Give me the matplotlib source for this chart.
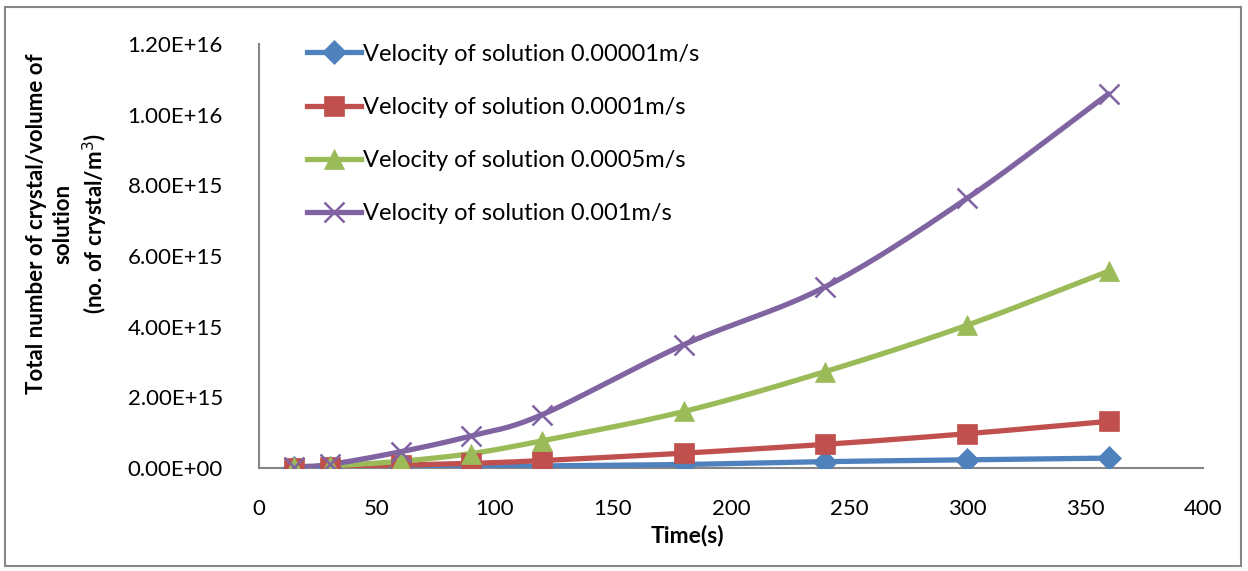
import numpy as np
import matplotlib
matplotlib.use("Agg")
import matplotlib.pyplot as plt
from matplotlib.patches import Rectangle

plt.rcParams['font.family'] = ['Lato', 'DejaVu Sans']

# Time (s)
time_s = [15, 30, 60, 90, 120, 180, 240, 300, 360]

# Total number of crystals per volume of solution (no. of crystal/m^3)
v_00001 = [0.003e15, 0.008e15, 0.02e15, 0.035e15, 0.06e15, 0.10e15, 0.18e15, 0.23e15, 0.28e15]
v_0001 = [0.01e15, 0.03e15, 0.08e15, 0.13e15, 0.21e15, 0.42e15, 0.67e15, 0.97e15, 1.32e15]
v_0005 = [0.02e15, 0.06e15, 0.19e15, 0.41e15, 0.77e15, 1.60e15, 2.73e15, 4.04e15, 5.57e15]
v_001 = [0.03e15, 0.10e15, 0.46e15, 0.91e15, 1.51e15, 3.49e15, 5.13e15, 7.63e15, 10.59e15]

labels = [
    "Velocity of solution 0.00001m/s",
    "Velocity of solution 0.0001m/s",
    "Velocity of solution 0.0005m/s",
    "Velocity of solution 0.001m/s",
]
series = [v_00001, v_0001, v_0005, v_001]
colors = ["#4F81BD", "#C0504D", "#9BBB59", "#8064A2"]
markers = ["D", "s", "^", "x"]
msizes = [12, 14, 15, 15]

y_ticks = [0, 2e15, 4e15, 6e15, 8e15, 1e16, 1.2e16]
y_ticklabels = ["0.00E+00", "2.00E+15", "4.00E+15", "6.00E+15", "8.00E+15", "1.00E+16", "1.20E+16"]
x_ticks = [0, 50, 100, 150, 200, 250, 300, 350, 400]


def smooth(x, y, n=30):
    """Catmull-Rom curve through the points (spreadsheet-style smoothed line)."""
    p = np.column_stack([x, y]).astype(float)
    ext = np.vstack([2 * p[0] - p[1], p, 2 * p[-1] - p[-2]])
    out = []
    t = np.linspace(0, 1, n)[:, None]
    for i in range(1, len(ext) - 2):
        p0, p1, p2, p3 = ext[i - 1], ext[i], ext[i + 1], ext[i + 2]
        seg = 0.5 * ((2 * p1) + (-p0 + p2) * t + (2 * p0 - 5 * p1 + 4 * p2 - p3) * t ** 2
                     + (-p0 + 3 * p1 - 3 * p2 + p3) * t ** 3)
        out.append(seg if i == 1 else seg[1:])
    out = np.vstack(out)
    return out[:, 0], out[:, 1]


W, H = 1248, 571
fig = plt.figure(figsize=(W / 100, H / 100), dpi=100)
ax = fig.add_axes([259 / W, 1 - 468 / H, (1203 - 259) / W, (468 - 44) / H])

for ys, c, m, ms, lab in zip(series, colors, markers, msizes, labels):
    sx, sy = smooth(time_s, ys)
    mew = 1.8 if m == "x" else 0.5
    ax.plot(sx, sy, color=c, lw=3.8, solid_capstyle="round", zorder=3)
    ax.plot(time_s, ys, linestyle="none", marker=m, color=c, markersize=ms,
            markeredgewidth=mew, markeredgecolor=c, zorder=4)
    ax.plot([], [], color=c, lw=3.8, marker=m, markersize=ms,
            markeredgewidth=mew, markeredgecolor=c, label=lab)

ax.set_xlim(0, 400)
ax.set_ylim(0, 1.2e16)
ax.set_xticks(x_ticks)
ax.set_yticks(y_ticks)
ax.set_yticklabels(y_ticklabels)
ax.tick_params(length=0, labelsize=16)
ax.tick_params(axis="y", pad=26)
ax.tick_params(axis="x", pad=22)

for s in ["top", "right"]:
    ax.spines[s].set_visible(False)
for s in ["left", "bottom"]:
    ax.spines[s].set_color("#868686")
    ax.spines[s].set_linewidth(1.5)

fig.text(687 / W, 1 - 535 / H, "Time(s)", ha="center", va="center",
         fontsize=16.5, fontweight="bold")
fig.text(68 / W, 1 - 224 / H,
         "Total number of crystal/volume of\nsolution\n(no. of crystal/m$^3$)",
         rotation=90, ha="center", va="center", fontsize=16, fontweight="bold",
         multialignment="center", linespacing=1.3)

leg = ax.legend(loc="upper left", bbox_to_anchor=(39 / 944, 1.023), frameon=False,
                fontsize=17, handlelength=2.25, handletextpad=0.1, labelspacing=1.36,
                borderaxespad=0)

fig.patches.append(Rectangle((5 / W, 5 / H), 1236 / W, 559 / H,
                             transform=fig.transFigure, fill=False,
                             edgecolor="#868686", lw=1.5))

fig.savefig("out.png", dpi=100)
